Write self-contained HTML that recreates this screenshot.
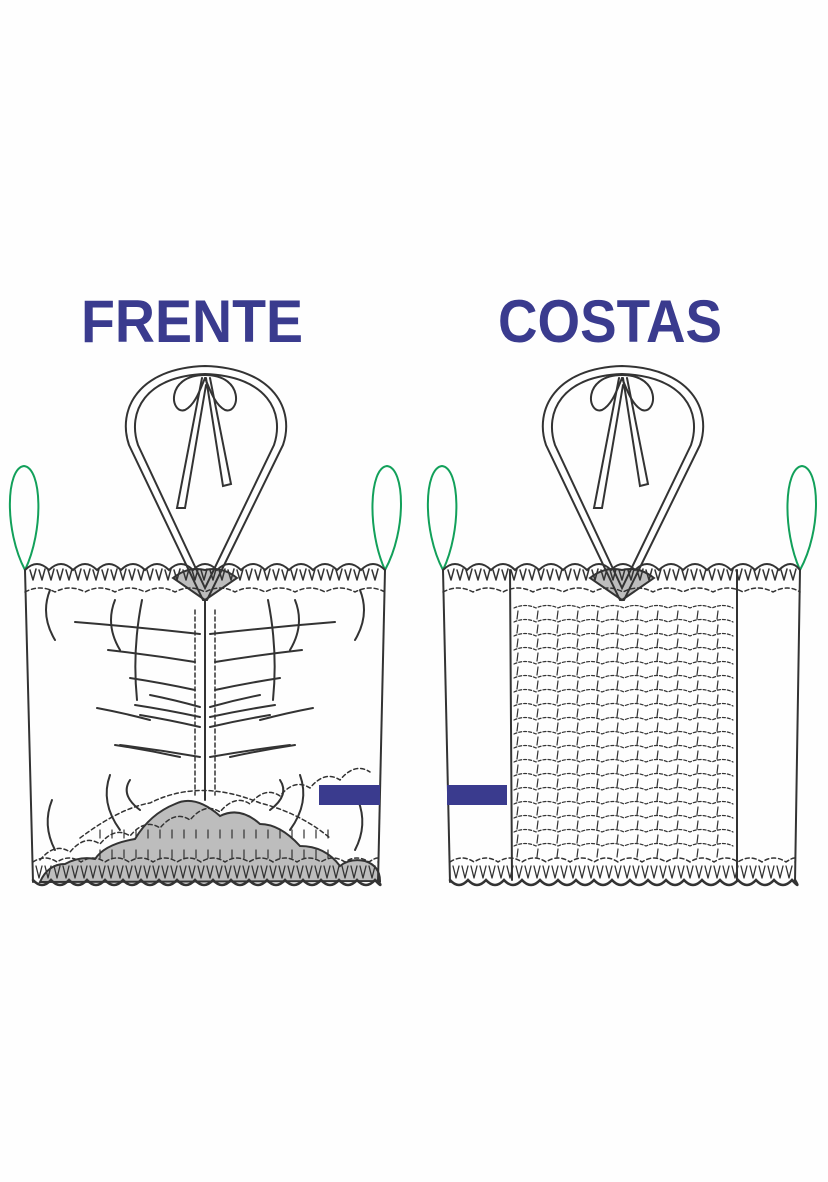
<!DOCTYPE html>
<html><head><meta charset="utf-8"><style>
html,body{margin:0;padding:0;background:#fff;}
svg{display:block}
</style></head><body>
<svg id="s" width="828" height="1182" viewBox="0 0 828 1182" xmlns="http://www.w3.org/2000/svg">
<rect width="828" height="1182" fill="#fefefe"/>
<text x="192" y="342" text-anchor="middle" font-family="Liberation Sans, sans-serif" font-weight="bold" font-size="60" fill="#3a3b8e" textLength="222" lengthAdjust="spacingAndGlyphs">FRENTE</text>
<text x="610" y="342" text-anchor="middle" font-family="Liberation Sans, sans-serif" font-weight="bold" font-size="60" fill="#3a3b8e" textLength="224" lengthAdjust="spacingAndGlyphs">COSTAS</text>
<g id="g" fill="none" stroke="#333" stroke-width="2" stroke-linecap="round"></g>
</svg>
<script>
var NS='http://www.w3.org/2000/svg';
var g=document.getElementById('g');
function P(d,a){var e=document.createElementNS(NS,'path');e.setAttribute('d',d);for(var k in (a||{}))e.setAttribute(k,a[k]);g.appendChild(e);return e;}
function R_(x,y,w,h){var r=document.createElementNS(NS,'rect');r.setAttribute('x',x);r.setAttribute('y',y);r.setAttribute('width',w);r.setAttribute('height',h);r.setAttribute('fill','#3a3b8e');r.setAttribute('stroke','none');g.appendChild(r);}
function garment(ox,front){
 var L=front?25:443,R=front?385:800, Lb=front?33:450, Rb=front?378:795;
 [[L,L-1],[R,R+2]].forEach(function(p){var x=p[0],c=p[1];
  P('M'+x+',570 C'+(c-20)+',530 '+(c-18)+',468 '+c+',466 C'+(c+18)+',468 '+(c+20)+',530 '+x+',570',{stroke:'#12a05a','stroke-width':2});});
 P('M'+(ox-32)+',578 q15,-12 32,-8 q17,-4 32,8 l-32,22z',{fill:'#bdbdbd',stroke:'#333'});
 if(front){
  P('M40,882 q8,-18 25,-18 q15,-8 30,-5 q10,-15 40,-20 q15,-25 40,-35 q20,-10 45,12 q20,-10 40,8 q20,0 40,22 q25,0 40,20 q10,-8 25,-5 q15,5 15,20 z',{fill:'#bdbdbd',stroke:'#333'});
 }
 P('M'+L+',570 L'+Lb+',882');P('M'+R+',570 L'+Rb+',882');
 var d='M'+L+',570';for(var x=L;x<R-2;x+=24)d+=' q12,-12 '+Math.min(24,R-x)+',0';P(d);
 d='M'+L+',592';for(x=L;x<R-2;x+=30)d+=' q15,-8 '+Math.min(30,R-x)+',0';P(d,{'stroke-dasharray':'4,3','stroke-width':1.5});
 for(x=L+8;x<R-5;x+=9){P('M'+x+',580 l-3,-10 M'+x+',580 l3,-11',{'stroke-width':1.5});}
 d='M'+Lb+',880';for(x=Lb;x<Rb-2;x+=18)d+=' q9,10 '+Math.min(18,Rb-x)+',0';P(d,{'stroke-width':2.5});
 d='M'+Lb+',862';for(x=Lb;x<Rb-2;x+=24)d+=' q12,-8 '+Math.min(24,Rb-x)+',0';P(d,{'stroke-dasharray':'4,3','stroke-width':1.5});
 for(x=Lb+6;x<Rb-4;x+=9){P('M'+x+',878 l-3,-12 M'+x+',878 l3,-12',{'stroke-width':1.3});}
 var hl=ox-82,hr=ox+84;
 P('M'+(ox-2)+',600 L'+(hl+6)+',445 C'+(hl-6)+',410 '+(hl+15)+',368 '+ox+',366 C'+(hr-15)+',368 '+(hr+6)+',410 '+(hr-6)+',445 L'+(ox+2)+',600 Z');
 P('M'+ox+',588 L'+(hl+15)+',445 C'+(hl+4)+',412 '+(hl+22)+',376 '+ox+',374 C'+(hr-22)+',376 '+(hr-4)+',412 '+(hr-15)+',445 L'+ox+',588 Z');
 P('M'+ox+',375 C'+(ox-40)+',375 '+(ox-35)+',415 '+(ox-20)+',410 C'+(ox-10)+',405 '+(ox-5)+',390 '+ox+',378');
 P('M'+ox+',375 C'+(ox+40)+',375 '+(ox+35)+',415 '+(ox+20)+',410 C'+(ox+10)+',405 '+(ox+5)+',390 '+ox+',378');
 P('M'+(ox-3)+',378 L'+(ox-28)+',508 L'+(ox-20)+',508 L'+(ox+1)+',385');
 P('M'+(ox+1)+',378 L'+(ox+18)+',486 L'+(ox+26)+',484 L'+(ox+5)+',378');
 if(front){
  P('M205,600 L205,800');
  P('M195,610 L195,795 M215,610 L215,795',{'stroke-dasharray':'4,3','stroke-width':1.5});
  var ls=[[75,622,200],[108,650,195],[130,678,195],[150,695,200],[135,705,200],[140,715,200],[120,745,200],[97,708,150],[115,745,180]];
  ls.forEach(function(l){P('M'+l[0]+','+l[1]+' Q'+((l[0]+l[2])/2)+','+(l[1]+5)+' '+l[2]+','+(l[1]+12));P('M'+(410-l[0])+','+l[1]+' Q'+((410-l[0]+410-l[2])/2)+','+(l[1]+5)+' '+(410-l[2])+','+(l[1]+12));});
  [[50,590,55,640],[115,600,120,650],[142,600,137,700],[130,780,140,810],[110,775,120,830],[52,800,55,850]].forEach(function(c){P('M'+c[0]+','+c[1]+' Q'+(c[0]-10)+','+((c[1]+c[3])/2)+' '+c[2]+','+c[3]);P('M'+(410-c[0])+','+c[1]+' Q'+(420-c[0])+','+((c[1]+c[3])/2)+' '+(410-c[2])+','+c[3]);});
  d='M40,860';for(x=40;x<365;x+=30)d+=' q15,-18 30,-8';P(d,{'stroke-dasharray':'4,3','stroke-width':1.5});
  P('M80,838 q40,-30 70,-35 q50,-25 110,0 q40,10 70,35',{'stroke-dasharray':'4,3','stroke-width':1.5});
  for(x=100;x<340;x+=12){P('M'+x+',830 l0,8 M'+x+',850 l0,8',{'stroke-width':1.2});}
  R_(319,785,61,20);
 } else {
  P('M510,570 L512,880 M737,570 L737,880',{'stroke-width':2});
  for(var y=608;y<860;y+=14){d='M514,'+y;for(x=514;x<733;x+=22)d+=' q11,-5 '+Math.min(22,733-x)+',0';P(d,{'stroke-dasharray':'3,2','stroke-width':1.2});
   for(x=518+(y%28?0:10);x<733;x+=20)P('M'+x+','+(y+3)+' l-1,8',{'stroke-width':1.2});}
  R_(447,785,60,20);
 }
}
garment(205,true);garment(622,false);
</script>
</body></html>
